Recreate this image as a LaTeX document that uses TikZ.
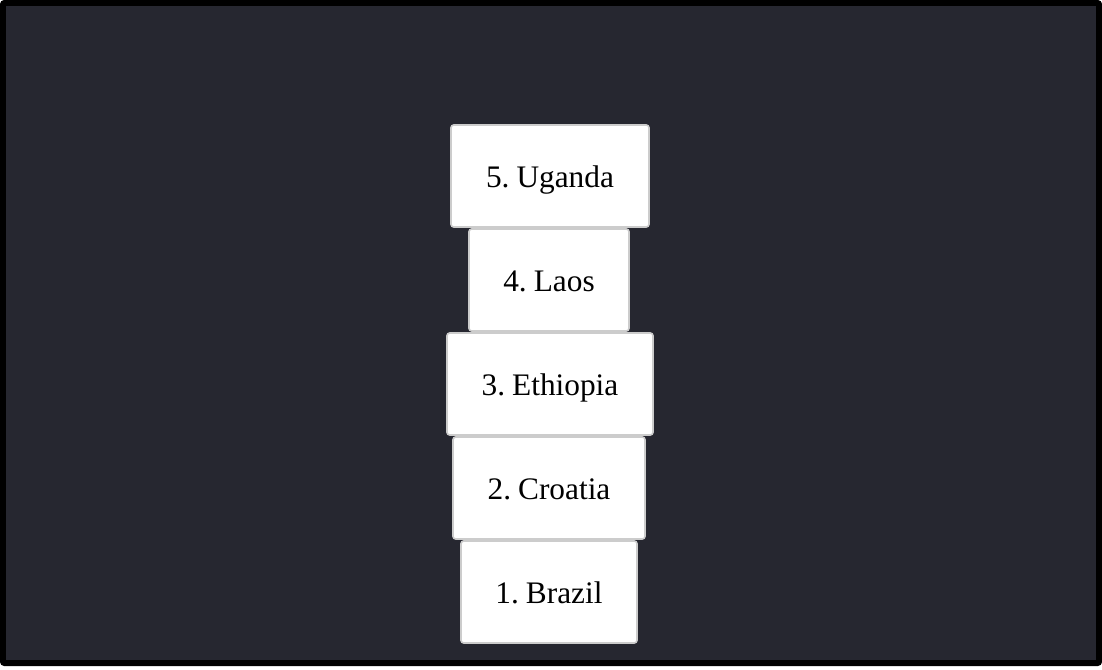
\documentclass[tikz,border=0pt]{standalone}
\usepackage{fontspec}
\setmainfont{Liberation Serif}
\definecolor{panelbg}{RGB}{38,39,48}
\definecolor{tileedge}{RGB}{204,204,204}
\newcommand\tilefont{\fontsize{23.5}{27}\selectfont\spaceskip=0.14em\relax}
\tikzset{
    tile/.style={draw=tileedge,line width=1.2pt,fill=white,rounded corners=2pt,
        minimum height=76.5pt,inner sep=0pt,text height=17pt,text depth=0pt,font=\tilefont},
}
\begin{document}
\begin{tikzpicture}[x=0.75pt,y=-0.75pt]
        \useasboundingbox(0,0)rectangle(1102,670);
        \fill[white](0,0)rectangle(1102,670);
        \fill[black,rounded corners=3pt](0,0)rectangle(1102,666);
        \fill[panelbg](6,6)rectangle(1096,660);
        % stack, top to bottom
        \node[tile,minimum width=148.5pt](uganda)at(550,176){5. Uganda};
        \node[tile,minimum width=120pt](laos)at(549,280){4. Laos};
        \node[tile,minimum width=154.5pt](ethiopia)at(550,384){3. Ethiopia};
        \node[tile,minimum width=144pt](croatia)at(549,488){2. Croatia};
        \node[tile,minimum width=132pt](brazil)at(549,592){1. Brazil};
    \end{tikzpicture}
\end{document}
